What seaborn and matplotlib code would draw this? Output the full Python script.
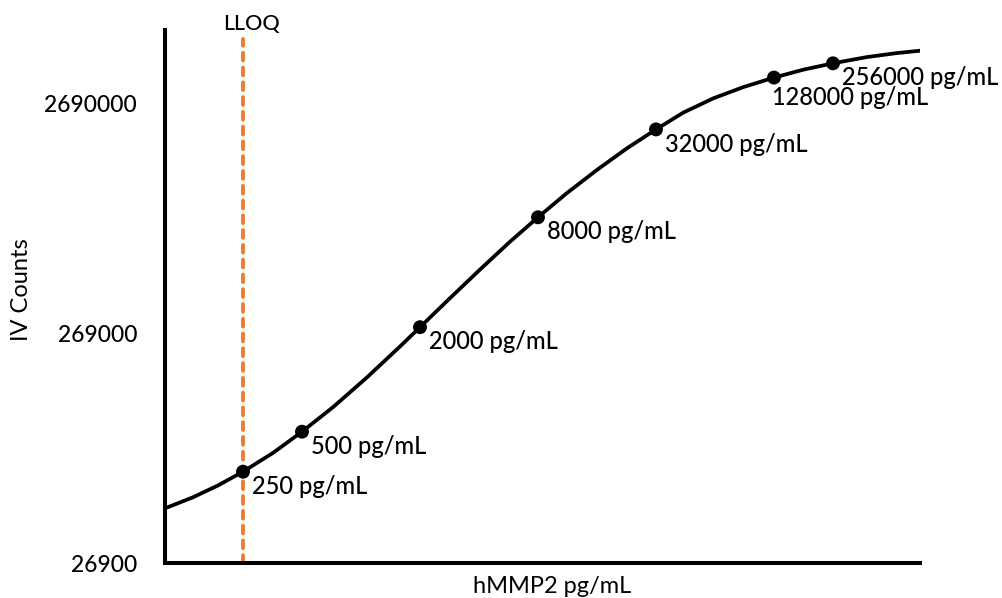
import matplotlib
matplotlib.use("Agg")
import matplotlib.pyplot as plt
from matplotlib.ticker import NullLocator, FixedLocator, FixedFormatter
import seaborn as sns
import pandas as pd

# ---- data ----
std_conc = [250, 500, 2000, 8000, 32000, 128000, 256000]          # pg/mL
std_counts = [67100, 100150, 285100, 856800, 2065000, 3470000, 4003000]
std_labels = ["250 pg/mL", "500 pg/mL", "2000 pg/mL", "8000 pg/mL",
              "32000 pg/mL", "128000 pg/mL", "256000 pg/mL"]

# fitted standard curve
curve_conc = [100, 139, 187, 250, 357, 500, 722, 1069, 1581, 2000, 2846,
              4047, 5758, 8000, 11210, 15950, 22680, 32000, 44100, 62730,
              89250, 128000, 180600, 256000, 380300, 541000, 711500]
curve_counts = [46510, 51940, 58560, 67100, 81160, 100150, 128300, 172000,
                234970, 285100, 381400, 507600, 671100, 856800, 1090300,
                1374300, 1706000, 2065000, 2443600, 2819000, 3154000,
                3470000, 3755000, 4003000, 4259000, 4434000, 4541000]

lloq_conc = 250
y_ticks = [26900, 269000, 2690000]
y_tick_labels = ["26900", "269000", "2690000"]
x_range = (100, 711500)
y_range = (26900, 5587000)

# ---- styling ----
sns.set_theme(style="white")
plt.rcParams["font.family"] = ["Lato", "DejaVu Sans"]
plt.rcParams["font.weight"] = "medium"
FS = 17

fig = plt.figure(figsize=(10.03, 5.98), dpi=100)
W, H = 1003, 598
ax = fig.add_axes([165 / W, 1 - 563 / H, 755 / W, 533 / H])

curve_df = pd.DataFrame({"conc": curve_conc, "counts": curve_counts})
std_df = pd.DataFrame({"conc": std_conc, "counts": std_counts, "label": std_labels})

ax.set_xscale("log", base=2)
ax.set_yscale("log")

sns.lineplot(data=curve_df, x="conc", y="counts", ax=ax, color="black",
             linewidth=2.7, sort=True, estimator=None, zorder=3)
sns.scatterplot(data=std_df, x="conc", y="counts", ax=ax, color="black",
                s=100, edgecolor="none", zorder=4)

# LLOQ line
ax.axvline(lloq_conc, ymin=0, ymax=(563 - 39) / 533, color="#ED7D31",
           linewidth=2.8, dashes=(2.0, 1.8), dash_capstyle="round", zorder=2)
ax.annotate("LLOQ", xy=(lloq_conc, 1.0), xycoords=("data", "axes fraction"),
            xytext=(6, 4.3), textcoords="offset points", ha="center",
            va="center", fontsize=FS - 1.5, color="black")

# point labels (offsets in points: right, down)
offsets = {"128000 pg/mL": (-1.5, 14.5)}
for c, v, lab in zip(std_conc, std_counts, std_labels):
    dx, dy = offsets.get(lab, (6.5, 10.5))
    ax.annotate(lab, xy=(c, v), xytext=(dx, -dy), textcoords="offset points",
                ha="left", va="center", fontsize=FS, color="black")

ax.set_xlim(*x_range)
ax.set_ylim(*y_range)

ax.xaxis.set_major_locator(NullLocator())
ax.xaxis.set_minor_locator(NullLocator())
ax.yaxis.set_major_locator(FixedLocator(y_ticks))
ax.yaxis.set_major_formatter(FixedFormatter(y_tick_labels))
ax.yaxis.set_minor_locator(NullLocator())
ax.tick_params(axis="y", length=0, pad=20, labelsize=FS - 0.5, labelcolor="black")

for side in ["top", "right"]:
    ax.spines[side].set_visible(False)
for side in ["left", "bottom"]:
    ax.spines[side].set_color("black")
    ax.spines[side].set_linewidth(2.9)
ax.grid(False)

ax.set_xlabel("hMMP2 pg/mL", fontsize=FS, color="black")
ax.set_ylabel("IV Counts", fontsize=FS, color="black")
ax.xaxis.set_label_coords((552 - 165) / 755, -0.025)
ax.yaxis.set_label_coords(-0.176, 0.512)

fig.savefig("out.png", dpi=100)
